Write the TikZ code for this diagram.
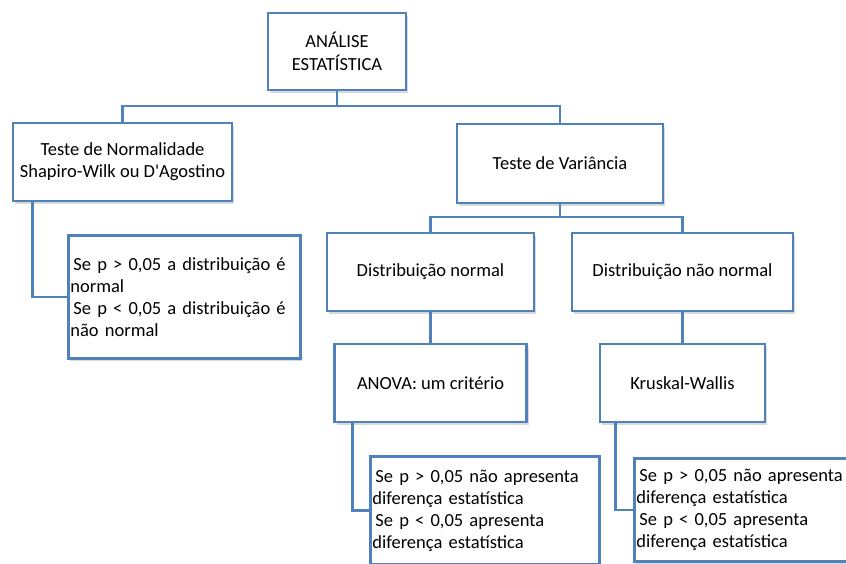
\documentclass[tikz,border=0pt]{standalone}
\usepackage{fontspec}
\setmainfont{Carlito}
\usetikzlibrary{shadows}
\definecolor{azul}{RGB}{79,129,189}
\begin{document}
\begin{tikzpicture}[x=1pt, y=-1pt, line width=2.8pt,
   every node/.style={font=\fontsize{18.5}{22}\selectfont},
   caixa/.style={draw=azul, fill=white, align=center, inner sep=2pt,
      drop shadow={opacity=0.3, shadow xshift=2pt, shadow yshift=-2.5pt}},
   nota/.style={caixa, anchor=north west, align=left, text width=#1}]
\useasboundingbox (0,0) rectangle (846,563);
\clip (0,0) rectangle (846,563);
\node[caixa, minimum width=138pt, minimum height=77pt] (analise) at (337,51.5) {ANÁLISE\\[1pt]ESTATÍSTICA};
\node[caixa, minimum width=219pt, minimum height=78pt] (normalidade) at (122.5,162) {Teste de Normalidade\\Shapiro-Wilk ou D\textquotesingle Agostino};
\node[caixa, minimum width=206pt, minimum height=79pt] (variancia) at (560,163.5) {Teste de Variância};
\node[caixa, minimum width=207pt, minimum height=78pt] (normal) at (430.5,272) {Distribuição normal};
\node[caixa, minimum width=221pt, minimum height=78pt] (naonormal) at (682.5,272) {Distribuição não normal};
\node[caixa, minimum width=192pt, minimum height=78pt] (anova) at (430.5,383) {ANOVA: um critério};
\node[caixa, minimum width=165pt, minimum height=78pt] (kruskal) at (682.5,383) {Kruskal-Wallis};
% notas com os valores de p
\node[nota=228pt, minimum height=123pt] (pnorm) at (67,234)
  {\hspace{3pt}Se p > 0,05 a distribuição é\\normal\\\hspace{3pt}Se p < 0,05 a distribuição é\\não normal};
\node[nota=225pt, minimum height=108pt] (panova) at (369,455)
  {\hspace{3pt}Se p > 0,05 não apresenta\\diferença estatística\\\hspace{3pt}Se p < 0,05 apresenta\\diferença estatística};
\node[nota=240pt, minimum height=103pt] (pkruskal) at (633,457)
  {\hspace{3pt}Se p > 0,05 não apresenta\\diferença estatística\\\hspace{3pt}Se p < 0,05 apresenta\\diferença estatística};
% ligacoes
\coordinate (j1) at (337,106);
\coordinate (j2) at (560,217);
\begin{scope}[draw=azul]
\draw (analise.south) -- (j1) -| (normalidade.north);
\draw (j1) -| (variancia.north);
\draw (variancia.south) -- (j2) -| (normal.north);
\draw (j2) -| (naonormal.north);
\draw (normal.south) -- (anova.north);
\draw (naonormal.south) -- (kruskal.north);
\draw ([xshift=21pt]normalidade.south west) |- (pnorm.west);
\draw ([xshift=19pt]anova.south west) |- (panova.west);
\draw ([xshift=17pt]kruskal.south west) |- (pkruskal.west);
\end{scope}
\end{tikzpicture}
\end{document}
